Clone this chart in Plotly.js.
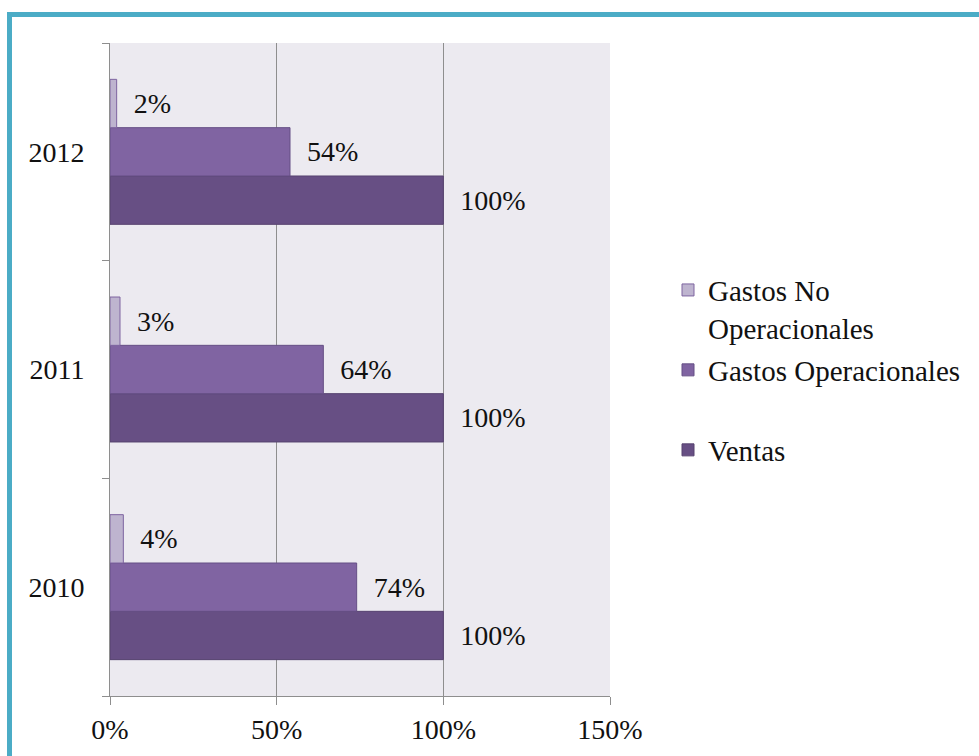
<!DOCTYPE html>
<html>
<head>
<meta charset="utf-8">
<script src="https://cdn.plot.ly/plotly-3.0.1.min.js"></script>
<style>
  html, body { margin: 0; padding: 0; background: #ffffff; }
  #chart { width: 979px; height: 756px; }
</style>
</head>
<body>
<div id="chart"></div>
<script>
// ---- Data ----
const years = ['2010', '2011', '2012'];
const ventas = [1.00, 1.00, 1.00];
const gastosOperacionales = [0.74, 0.64, 0.54];
const gastosNoOperacionales = [0.04, 0.03, 0.02];
const xTickVals = [0, 0.5, 1.0, 1.5];
const xTickText = ['0%', '50%', '100%', '150%'];

const FONT = '"Liberation Serif", "Times New Roman", Times, serif';
const pad = '\u00a0\u00a0';
function labels(arr) { return arr.map(v => pad + Math.round(v * 100) + '%'); }

const traces = [
  {
    type: 'bar', orientation: 'h', name: 'Ventas',
    y: years, x: ventas, text: labels(ventas),
    textposition: 'outside', constraintext: 'none', cliponaxis: false,
    textfont: { family: FONT, size: 28, color: '#111111' },
    marker: { color: '#674F84', line: { color: '#56426F', width: 1 } },
    legend: 'legend3', hoverinfo: 'x+y'
  },
  {
    type: 'bar', orientation: 'h', name: 'Gastos Operacionales',
    y: years, x: gastosOperacionales, text: labels(gastosOperacionales),
    textposition: 'outside', constraintext: 'none', cliponaxis: false,
    textfont: { family: FONT, size: 28, color: '#111111' },
    marker: { color: '#8064A2', line: { color: '#654F85', width: 1 } },
    legend: 'legend2', hoverinfo: 'x+y'
  },
  {
    type: 'bar', orientation: 'h', name: 'Gastos No<br>Operacionales',
    y: years, x: gastosNoOperacionales, text: labels(gastosNoOperacionales),
    textposition: 'outside', constraintext: 'none', cliponaxis: false,
    textfont: { family: FONT, size: 28, color: '#111111' },
    marker: { color: '#BEB4CF', line: { color: '#7E64A0', width: 1 } },
    legend: 'legend', hoverinfo: 'x+y'
  }
];

const legendBase = {
  font: { family: FONT, size: 29, color: '#111111' },
  bgcolor: 'rgba(0,0,0,0)',
  xanchor: 'left', yanchor: 'middle',
  x: 1.116
};

const layout = {
  width: 979, height: 756,
  margin: { l: 110, r: 369, t: 43, b: 60, autoexpand: false },
  paper_bgcolor: '#ffffff',
  plot_bgcolor: '#ECEAF0',
  font: { family: FONT, size: 28, color: '#111111' },
  barmode: 'group',
  bargap: 0.334,
  bargroupgap: 0,
  showlegend: true,
  legend: Object.assign({}, legendBase, { y: 0.5925, valign: 'top' }),
  legend2: Object.assign({}, legendBase, { y: 0.4992 }),
  legend3: Object.assign({}, legendBase, { y: 0.3767 }),
  xaxis: {
    range: [0, 1.5],
    tickvals: xTickVals, ticktext: xTickText,
    showgrid: true, gridcolor: '#8E8E8E', gridwidth: 1,
    zeroline: false,
    showline: true, linecolor: '#8E8E8E', linewidth: 1,
    ticks: 'outside', ticklen: 8, tickcolor: '#8E8E8E', tickwidth: 1,
    ticklabelstandoff: 0,
    tickfont: { family: FONT, size: 28, color: '#111111' },
    fixedrange: true
  },
  yaxis: {
    type: 'category',
    categoryorder: 'array', categoryarray: years,
    showgrid: false, zeroline: false,
    showline: true, linecolor: '#8E8E8E', linewidth: 1,
    ticks: 'outside', tickson: 'boundaries', ticklen: 7, tickcolor: '#8E8E8E', tickwidth: 1,
    ticklabelstandoff: 19,
    tickfont: { family: FONT, size: 28, color: '#111111' },
    fixedrange: true
  },
  shapes: [
    { type: 'line', xref: 'paper', yref: 'paper', x0: -0.201, x1: 2.0, y0: 1.0436, y1: 1.0436,
      line: { color: '#4BACC6', width: 5 } },
    { type: 'line', xref: 'paper', yref: 'paper', x0: -0.201, x1: -0.201, y0: 1.0475, y1: -0.2,
      line: { color: '#4BACC6', width: 5 } }
  ]
};

Plotly.newPlot('chart', traces, layout, { displayModeBar: false, staticPlot: true });
</script>
</body>
</html>
